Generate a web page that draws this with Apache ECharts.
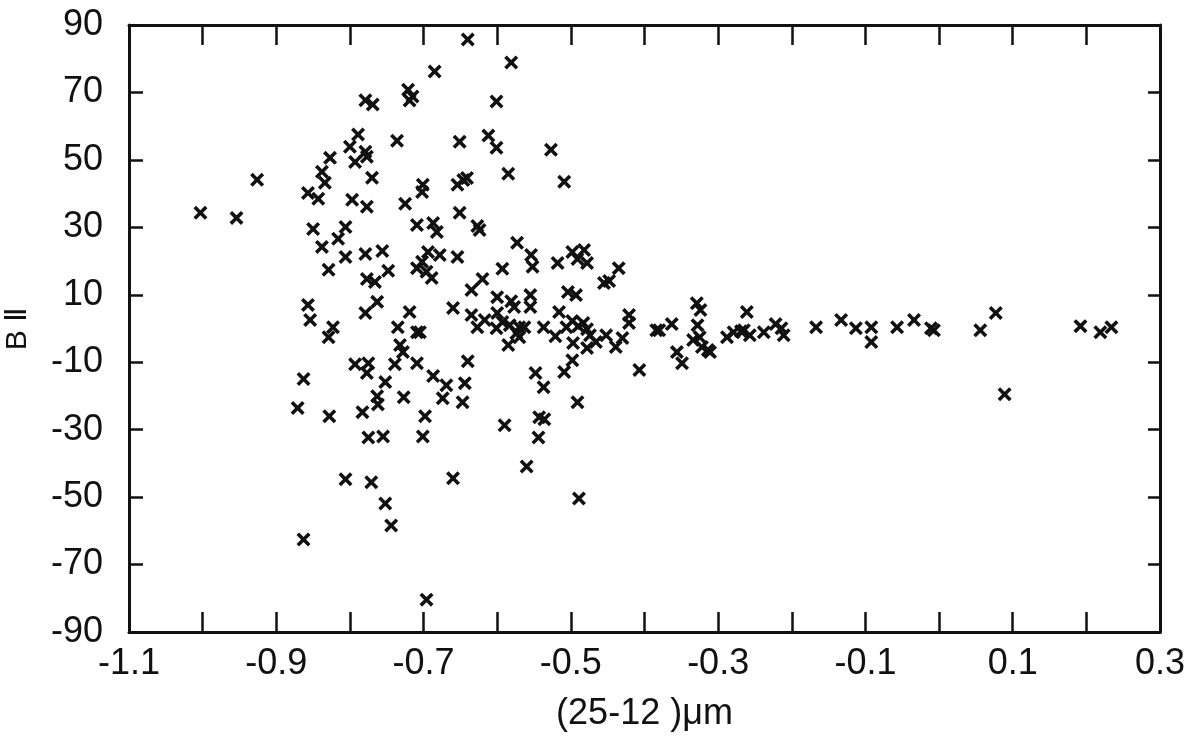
<!DOCTYPE html>
<html><head><meta charset="utf-8">
<script src="https://cdn.jsdelivr.net/npm/echarts@6/dist/echarts.min.js"></script>
<style>html,body{margin:0;padding:0;background:#fff}#c{width:1200px;height:750px}</style>
</head><body><div id="c"></div><script>
const xValues = [
-1.003,-0.954,-0.926,-0.857,-0.843,-0.838,-0.834,-0.827,-0.800,-0.789,
-0.793,-0.779,-0.777,-0.779,-0.769,-0.721,-0.715,-0.719,-0.736,-0.770,
-0.797,-0.777,-0.725,-0.640,-0.685,-0.581,-0.601,-0.651,-0.612,-0.601,
-0.527,-0.585,-0.509,-0.701,-0.702,-0.654,-0.646,-0.641,-0.651,-0.850,
-0.806,-0.816,-0.838,-0.806,-0.829,-0.779,-0.756,-0.709,-0.687,-0.682,
-0.627,-0.624,-0.694,-0.678,-0.654,-0.702,-0.709,-0.696,-0.689,-0.748,
-0.777,-0.766,-0.635,-0.573,-0.554,-0.552,-0.593,-0.518,-0.498,-0.482,
-0.491,-0.478,-0.435,-0.455,-0.448,-0.620,-0.600,-0.581,-0.577,-0.555,
-0.555,-0.504,-0.493,-0.857,-0.854,-0.823,-0.829,-0.779,-0.763,-0.719,
-0.735,-0.709,-0.705,-0.732,-0.728,-0.660,-0.635,-0.627,-0.617,-0.600,
-0.601,-0.593,-0.583,-0.570,-0.574,-0.563,-0.585,-0.570,-0.537,-0.521,
-0.516,-0.506,-0.498,-0.490,-0.483,-0.478,-0.474,-0.497,-0.478,-0.466,
-0.452,-0.439,-0.430,-0.421,-0.421,-0.384,-0.380,-0.363,-0.334,-0.325,
-0.322,-0.314,-0.311,-0.356,-0.349,-0.407,-0.329,-0.324,-0.328,-0.288,
-0.279,-0.269,-0.265,-0.261,-0.257,-0.238,-0.222,-0.214,-0.211,-0.167,
-0.133,-0.113,-0.092,-0.092,-0.057,-0.034,-0.011,-0.007,0.056,0.077,
0.089,0.192,0.219,0.234,-0.498,-0.509,-0.548,-0.537,-0.491,-0.543,
-0.536,-0.544,-0.560,-0.489,-0.590,-0.640,-0.687,-0.669,-0.644,-0.674,
-0.647,-0.727,-0.698,-0.701,-0.660,-0.696,-0.793,-0.775,-0.777,-0.739,
-0.709,-0.752,-0.763,-0.762,-0.783,-0.828,-0.871,-0.863,-0.775,-0.755,
-0.806,-0.771,-0.752,-0.744,-0.863
];
const yValues = [
34.3,32.8,44.1,40.2,38.5,46.5,43.2,50.6,53.9,57.5,
49.4,52.4,50.9,67.7,66.4,70.8,68.8,67.6,55.7,44.7,
38.2,36.1,37.0,85.7,76.2,78.9,67.3,55.4,57.2,53.6,
53.0,45.9,43.5,42.6,40.5,42.6,44.0,44.6,34.3,29.5,
30.1,26.6,24.2,21.2,17.4,22.1,23.0,30.7,31.3,28.6,
30.4,29.2,22.7,21.8,21.2,19.8,17.9,16.8,15.0,17.1,
14.7,13.8,11.4,25.4,21.8,18.3,17.7,19.4,22.7,23.3,
20.6,19.4,17.9,13.5,14.1,14.7,9.3,8.1,6.4,9.9,
6.4,10.8,9.9,7.0,2.5,0.4,-2.6,4.6,7.9,4.9,
0.4,-1.1,-1.1,-4.9,-7.0,6.1,4.0,0.4,2.5,4.6,
0.1,1.9,1.0,0.4,-1.4,0.4,-4.9,-2.6,0.4,-2.3,
4.9,0.4,2.2,0.7,1.6,-0.2,-2.0,-4.3,-5.8,-4.0,
-2.0,-5.5,-2.8,4.0,1.6,-0.5,-0.5,1.3,-3.4,-2.6,
-5.5,-6.4,-7.0,-7.0,-10.3,-12.3,7.5,5.5,1.0,-2.6,
-1.1,-0.8,-0.5,4.9,-2.0,-1.1,1.3,0.1,-2.0,0.4,
2.5,0.1,0.4,-4.0,0.4,2.5,0.1,-0.5,-0.5,4.6,
-19.5,0.7,-1.1,0.4,-9.4,-12.9,-13.2,-17.4,-21.9,-26.3,
-26.9,-32.3,-40.9,-50.4,-28.7,-9.7,-14.1,-16.8,-16.2,-20.7,
-21.9,-20.4,-26.0,-32.0,-44.4,-80.4,-10.6,-10.3,-13.2,-10.6,
-10.3,-15.9,-20.1,-22.5,-24.8,-26.0,-23.6,-15.0,-32.3,-32.0,
-44.7,-45.6,-51.9,-58.4,-62.6
];
const xTickLabels = ['-1.1','-0.9','-0.7','-0.5','-0.3','-0.1','0.1','0.3'];
const yTickLabels = ['90','70','50','30','10','-10','-30','-50','-70','-90'];
const xTitle = '(25-12 )\u03bcm';
const yTitle = 'B \u2161';

const points = xValues.map((x, i) => [x, yValues[i]]);
const FONT = "'Liberation Sans',Arial,sans-serif";
const INK = '#111';
const lineStyle = { color: INK, width: 3 };

const chart = echarts.init(document.getElementById('c'), null, { renderer: 'canvas' });
chart.setOption({
  backgroundColor: '#fff',
  animation: false,
  grid: { left: 129, right: 40, top: 25, bottom: 118, containLabel: false, outerBoundsMode: 'none' },
  xAxis: [{
    type: 'value', min: -1.1, max: 0.3, interval: 0.1, position: 'bottom',
    axisLine: { show: true, onZero: false, lineStyle },
    axisTick: { show: true, inside: true, length: 20, lineStyle: { color: INK, width: 2.5 } },
    splitLine: { show: false },
    axisLabel: {
      show: true, margin: 14, fontSize: 36, color: INK, fontFamily: FONT,
      formatter: v => { const k = Math.round((v + 1.1) * 10); return k % 2 === 0 ? xTickLabels[k / 2] : ''; }
    },
    name: xTitle, nameLocation: 'middle', nameGap: 64,
    nameTextStyle: { fontSize: 36, color: INK, fontFamily: FONT }
  }, {
    type: 'value', min: -1.1, max: 0.3, interval: 0.1, position: 'top',
    axisLine: { show: true, onZero: false, lineStyle },
    axisTick: { show: true, inside: true, length: 20, lineStyle: { color: INK, width: 2.5 } },
    splitLine: { show: false }, axisLabel: { show: false }
  }],
  yAxis: [{
    type: 'value', min: -90, max: 90, interval: 20, position: 'left',
    axisLine: { show: true, onZero: false, lineStyle },
    axisTick: { show: true, inside: true, length: 14, lineStyle: { color: INK, width: 2.5 } },
    splitLine: { show: false },
    axisLabel: {
      show: true, margin: 26, fontSize: 36, color: INK, fontFamily: FONT,
      formatter: v => yTickLabels[Math.round((90 - v) / 20)]
    },
    name: yTitle, nameLocation: 'middle', nameGap: 96, nameRotate: 90,
    nameTextStyle: { fontSize: 30, color: INK, fontFamily: FONT }
  }, {
    type: 'value', min: -90, max: 90, interval: 20, position: 'right',
    axisLine: { show: true, onZero: false, lineStyle },
    axisTick: { show: true, inside: true, length: 12, lineStyle: { color: INK, width: 2.5 } },
    splitLine: { show: false }, axisLabel: { show: false }
  }],
  series: [{
    type: 'scatter', xAxisIndex: 0, yAxisIndex: 0, data: points,
    symbol: 'path://M0,1.8L1.8,0L5,3.2L8.2,0L10,1.8L6.8,5L10,8.2L8.2,10L5,6.8L1.8,10L0,8.2L3.2,5Z',
    symbolSize: 14,
    itemStyle: { color: INK, opacity: 1 }
  }]
});
</script></body></html>
